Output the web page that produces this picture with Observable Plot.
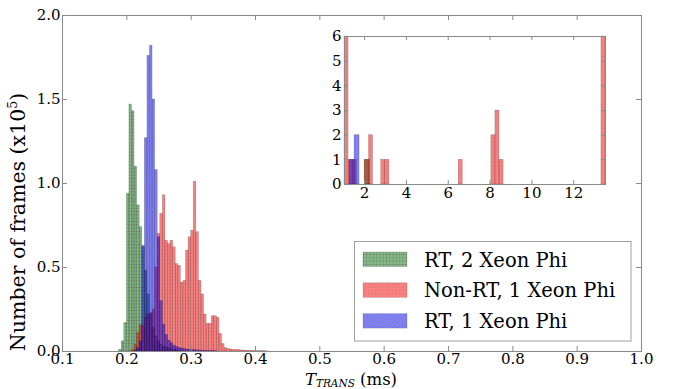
<!DOCTYPE html>
<html><head><meta charset="utf-8">
<script src="https://cdn.jsdelivr.net/npm/d3@7"></script>
<script src="https://cdn.jsdelivr.net/npm/@observablehq/plot@0.6"></script>
<style>
body{margin:0;background:#fff;}
#wrap{position:relative;width:679px;height:389px;overflow:hidden;}
#wrap svg{position:absolute;}
</style></head><body><div id="wrap"></div>
<script>
// ---------- data ----------
const seriesNames = ["RT, 2 Xeon Phi", "Non-RT, 1 Xeon Phi", "RT, 1 Xeon Phi"];
const binWidth = 0.004; // ms

const greenStart = 0.188;
const greenCounts = [0.01, 0.06, 0.17, 0.94, 1.47, 1.43, 1.10, 0.87, 0.74, 0.62, 0.48, 0.34,
  0.22, 0.14, 0.09, 0.06, 0.04, 0.03, 0.025, 0.02, 0.015, 0.01, 0.008, 0.005];

const redStart = 0.208;
const redCounts = [0.01, 0.04, 0.11, 0.155, 0.155, 0.2, 0.22, 0.23, 0.25, 0.5, 0.70, 0.82,
  0.93, 0.66, 0.64, 0.66, 0.62, 0.52, 0.51, 0.41, 0.42, 0.60, 0.68, 0.72, 1.01, 0.71, 0.42,
  0.34, 0.22, 0.165, 0.165, 0.21, 0.21, 0.20, 0.105, 0.045, 0.02, 0.015, 0.012, 0.01, 0.009,
  0.008, 0.007, 0.006, 0.005, 0.004, 0.004, 0.003, 0.003, 0.002, 0.002, 0.002, 0.001];

const blueStart = 0.212;
const blueCounts = [0.005, 0.02, 0.06, 0.63, 1.27, 1.76, 1.82, 1.50, 1.08, 0.68, 0.30, 0.16,
  0.10, 0.065, 0.05, 0.035, 0.028, 0.022, 0.018, 0.015, 0.012, 0.01, 0.009, 0.008, 0.007,
  0.006, 0.005, 0.004, 0.004, 0.003, 0.003, 0.002];

const xTicks = [0.1, 0.2, 0.3, 0.4, 0.5, 0.6, 0.7, 0.8, 0.9, 1.0];
const yTicks = [0.0, 0.5, 1.0, 1.5, 2.0];

// inset (counts of frames with T > 1 ms)
const insetRedStarts = [1.04, 1.235, 1.43, 2.015, 2.21, 2.795, 2.99, 6.5, 8.06, 8.255, 8.45, 13.325];
const insetRedCounts = [6, 1, 1, 1, 2, 1, 1, 1, 2, 3, 1, 6];
const insetRedWidth = 0.195;
const insetBlueStarts = [1.28, 1.52];
const insetBlueCounts = [1, 2];
const insetBlueWidth = 0.24;
const insetGreenStarts = [2.0];
const insetGreenCounts = [1];
const insetGreenWidth = 0.27;
const insetXTicks = [2, 4, 6, 8, 10, 12];
const insetYTicks = [0, 1, 2, 3, 4, 5, 6];
const insetDomain = [1.04, 13.52];

// ---------- helpers ----------
const hist = (start, w, counts) => counts.map((c, i) => ({x1: start + i * w, x2: start + (i + 1) * w, y: c}));
const bars = (starts, w, counts) => starts.map((s, i) => ({x1: s, x2: s + w, y: counts[i]}));
const fills = ["url(#patG)", "url(#patR)", "url(#patB)"];
const barOpts = (k) => ({x1: "x1", x2: "x2", y: "y", fill: fills[k], fillOpacity: 0.5,
  stroke: "#000", strokeOpacity: 0.28, strokeWidth: 0.5});
const FONT = "DejaVu Serif";
const frameColor = "#8a8a8a";
const TICKFS = 15;

const wrap = document.getElementById("wrap");

// pattern definitions (shared by both charts)
const defsSvg = d3.select(wrap).append("svg").attr("width", 0).attr("height", 0).style("left", 0).style("top", 0);
const defs = defsSvg.append("defs");
{
  const g = defs.append("pattern").attr("id", "patG").attr("patternUnits", "userSpaceOnUse").attr("width", 3.3).attr("height", 3.3);
  g.append("rect").attr("width", 3.3).attr("height", 3.3).attr("fill", "#008000");
  g.append("path").attr("d", "M0,0.3H3.3M0.3,0V3.3").attr("stroke", "#000").attr("stroke-width", 0.6);
  const r = defs.append("pattern").attr("id", "patR").attr("patternUnits", "userSpaceOnUse").attr("width", 3.4).attr("height", 3.4);
  r.append("rect").attr("width", 3.4).attr("height", 3.4).attr("fill", "#ff0000");
  r.append("circle").attr("cx", 1.7).attr("cy", 1.7).attr("r", 0.65).attr("fill", "#000").attr("fill-opacity", 0.7);
  const b = defs.append("pattern").attr("id", "patB").attr("patternUnits", "userSpaceOnUse").attr("width", 5).attr("height", 5);
  b.append("rect").attr("width", 5).attr("height", 5).attr("fill", "#0000ff");
  b.append("path").attr("d", "M0,5L5,0M-1,1L1,-1M4,6L6,4").attr("stroke", "#000").attr("stroke-width", 0.6);
}

// ---------- main chart ----------
const mL = 62, mR = 38, mT = 15, mB = 38, W = 679, H = 389;
const fh = H - mT - mB, fw = W - mL - mR, tl = 5;
const main = Plot.plot({
  width: W, height: H,
  marginLeft: mL, marginRight: mR, marginTop: mT, marginBottom: mB,
  x: {domain: [0.1, 1.0]},
  y: {domain: [0, 2.0]},
  style: {fontFamily: FONT, fontSize: TICKFS + "px", color: "#000", background: "transparent", overflow: "visible"},
  marks: [
    Plot.rectY(hist(greenStart, binWidth, greenCounts), barOpts(0)),
    Plot.rectY(hist(redStart, binWidth, redCounts), barOpts(1)),
    Plot.rectY(hist(blueStart, binWidth, blueCounts), barOpts(2)),
    Plot.frame({stroke: frameColor}),
    Plot.tickX(xTicks, {x: d => d, insetTop: fh - tl, stroke: frameColor}),
    Plot.tickX(xTicks, {x: d => d, insetBottom: fh - tl, stroke: frameColor}),
    Plot.tickY(yTicks, {y: d => d, insetRight: fw - tl, stroke: frameColor}),
    Plot.tickY(yTicks, {y: d => d, insetLeft: fw - tl, stroke: frameColor}),
    Plot.axisX(xTicks, {tickSize: 0, tickPadding: 2, tickFormat: d => d.toFixed(1), label: null, fontSize: TICKFS}),
    Plot.axisY(yTicks, {tickSize: 0, tickPadding: 2, tickFormat: d => d.toFixed(1), label: null, fontSize: TICKFS})
  ]
});
main.style.left = "0px"; main.style.top = "0px";
wrap.appendChild(main);

const svg = d3.select(main);
// y label
const yl = svg.append("text").attr("transform", "translate(25,222) rotate(-90)")
  .attr("text-anchor", "middle").attr("font-family", FONT).attr("font-size", 20.5).attr("fill", "#000");
yl.append("tspan").text("Number of frames (x10");
yl.append("tspan").attr("dy", -8).attr("font-size", 12.5).text("5");
yl.append("tspan").attr("dy", 8).text(")");
// x label
const xl = svg.append("text").attr("x", 351).attr("y", 385)
  .attr("text-anchor", "middle").attr("font-family", FONT).attr("font-size", 16.5).attr("fill", "#000");
xl.append("tspan").attr("font-style", "italic").text("T");
xl.append("tspan").attr("font-style", "italic").attr("font-size", 10.5).attr("dy", 1.5).text("TRANS");
xl.append("tspan").attr("dy", -1.5).text(" (ms)");

// legend
const lg = svg.append("g");
lg.append("rect").attr("x", 354.5).attr("y", 241.5).attr("width", 276.5).attr("height", 99.5)
  .attr("fill", "#fff").attr("stroke", "#a0a0a0").attr("stroke-width", 1);
seriesNames.forEach((name, i) => {
  const y0 = 252 + i * 30.8;
  lg.append("rect").attr("x", 363).attr("y", y0).attr("width", 44).attr("height", 14.5)
    .attr("fill", fills[i]).attr("fill-opacity", 0.5).attr("stroke", "#000").attr("stroke-opacity", 0.28).attr("stroke-width", 0.5);
  lg.append("text").attr("x", 424).attr("y", y0 + 14.5).attr("text-anchor", "start")
    .attr("font-family", FONT).attr("font-size", 19.5).attr("fill", "#000").text(name);
});

// ---------- inset chart ----------
const iL = 20, iR = 9, iT = 8, iB = 20, iW = 290, iH = 176;
const ifh = iH - iT - iB, ifw = iW - iL - iR, itl = 4;
const inset = Plot.plot({
  width: iW, height: iH,
  marginLeft: iL, marginRight: iR, marginTop: iT, marginBottom: iB,
  x: {domain: insetDomain},
  y: {domain: [0, 6]},
  style: {fontFamily: FONT, fontSize: TICKFS + "px", color: "#000", background: "transparent", overflow: "visible"},
  marks: [
    Plot.frame({fill: "#fff"}),
    Plot.rectY(bars(insetGreenStarts, insetGreenWidth, insetGreenCounts), barOpts(0)),
    Plot.rectY(bars(insetRedStarts, insetRedWidth, insetRedCounts), barOpts(1)),
    Plot.rectY(bars(insetBlueStarts, insetBlueWidth, insetBlueCounts), barOpts(2)),
    Plot.frame({stroke: frameColor}),
    Plot.tickX(insetXTicks, {x: d => d, insetTop: ifh - itl, stroke: frameColor}),
    Plot.tickX(insetXTicks, {x: d => d, insetBottom: ifh - itl, stroke: frameColor}),
    Plot.tickY(insetYTicks, {y: d => d, insetRight: ifw - itl, stroke: frameColor}),
    Plot.tickY(insetYTicks, {y: d => d, insetLeft: ifw - itl, stroke: frameColor}),
    Plot.axisX(insetXTicks, {tickSize: 0, tickPadding: 3, label: null, fontSize: TICKFS}),
    Plot.axisY(insetYTicks, {tickSize: 0, tickPadding: 3, label: null, fontSize: TICKFS})
  ]
});
inset.style.left = "323.5px"; inset.style.top = "27.5px";
wrap.appendChild(inset);
</script>
</body></html>
